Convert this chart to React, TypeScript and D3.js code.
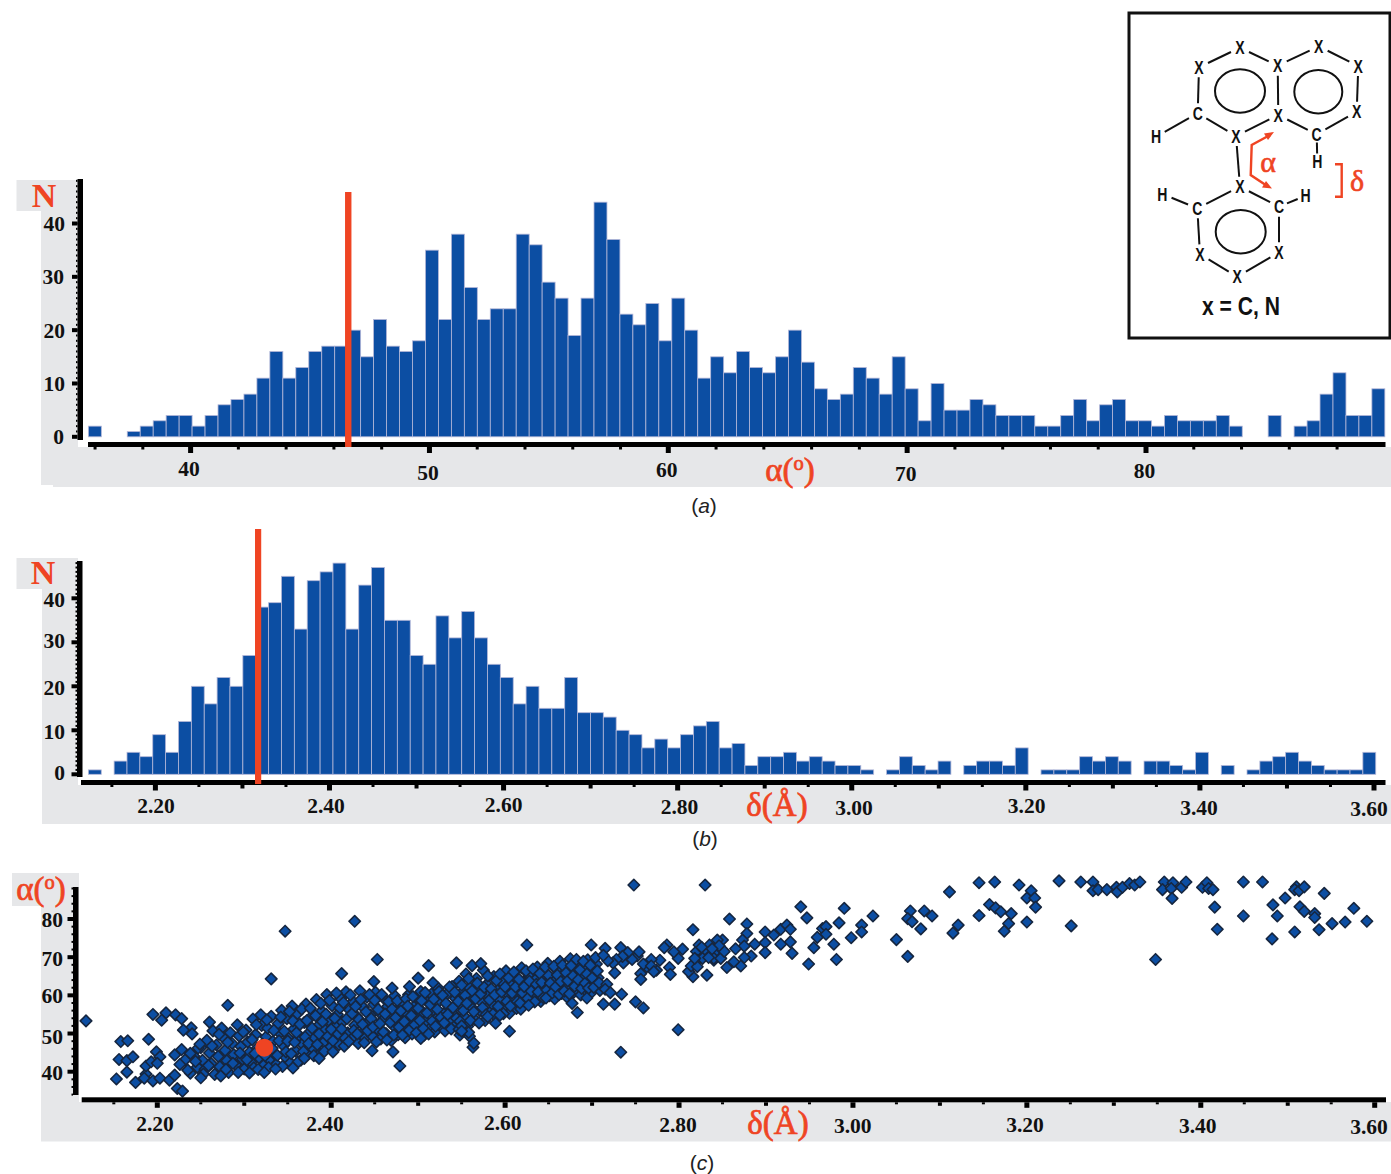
import React from "react";
import * as d3 from "d3";

// ---- data ----
const alphaCounts = [2,0,0,1,2,3,4,4,2,4,6,7,8,11,16,11,13,16,17,17,20,15,22,17,16,18,35,22,38,28,22,24,24,38,36,29,26,19,26,44,37,23,21,25,18,26,20,11,15,12,16,13,12,15,20,14,9,7,8,13,11,8,15,9,3,10,5,5,7,6,4,4,4,2,2,4,7,3,6,7,3,3,2,4,3,3,3,4,2,0,0,4,0,2,3,8,12,4,4,9];
const deltaCounts = [1,0,3,5,4,9,5,12,20,16,22,20,27,38,39,45,33,44,46,48,33,43,47,35,35,27,25,36,31,37,31,25,22,16,20,15,15,22,14,14,13,10,9,6,8,6,9,11,12,6,7,2,4,4,5,3,4,3,2,2,1,0,1,4,2,1,3,0,2,3,3,2,6,0,1,1,1,4,3,4,3,0,3,3,2,1,5,0,2,0,1,3,4,5,3,2,1,1,1,5];
const alphaBinStart = 35.72;
const alphaBinWidth = 0.5428;
const deltaBinStart = 2.123;
const deltaBinWidth = 0.01479;
const alphaMarker = 46.6;
const deltaMarker = 2.318;
const alphaTicks = [40,50,60,70,80];
const deltaTicks = [2.2,2.4,2.6,2.8,3.0,3.2,3.4,3.6];
const countTicks = [0,10,20,30,40];
const scatterAlphaTicks = [40,50,60,70,80];
const highlight = [2.323, 46.3];

const scatterSparse: number[][] = [
[2.118,53.3],[2.347,76.8],[2.427,79.4],[2.331,64.3],[2.453,69.4],[2.412,65.7],[2.281,57.4],[2.449,63.6],[2.47,61.9],[2.49,62.3],[2.512,67.8],[2.5,64.5],[2.517,63.3],[2.544,68.5],[2.562,67.8],[2.572,68.3],
[2.195,55],[2.21,55.4],[2.205,53.5],[2.221,54.9],[2.228,53.9],[2.239,51.5],[2.23,50.9],[2.24,49.9],[2.26,53],[2.158,47.9],[2.166,48.1],[2.19,48.5],[2.156,43.2],[2.165,42.9],[2.172,43.9],[2.165,39.9],[2.153,38.1],[2.175,37.2],[2.187,39.4],[2.185,38.3],[2.195,37.6],[2.203,38.3],[2.214,37.8],[2.22,39.1],[2.223,35.6],[2.229,34.9],[2.187,41.5],[2.193,42.6],[2.199,45.2],[2.203,43.9],[2.2,42.2],[2.25,38.4],[2.238,39.6],[2.235,40.4],[2.22,44.4],[2.228,45.8],[2.249,47.2],[2.232,43.1],[2.226,41.9],[2.238,44.8],[2.244,42.7],
[2.323,39.8],[2.336,40.7],[2.356,41],[2.402,45.2],[2.447,45.5],[2.471,45.2],[2.479,41.5],[2.386,43.5],[2.369,43.5],[2.563,46.4],[2.548,49.6],[2.559,49.3],[2.547,51.1],[2.503,48.7],
[2.748,88.9],[2.83,88.9],[2.733,45.1],[2.799,51],[2.94,83.2],[2.947,80.3],[2.99,82.8],[2.858,80],[2.878,78.7],[2.816,77.2],[2.625,73.2],[2.699,73.2],[2.733,72.5],[3.023,80.8],[2.984,79],[3.01,78.4],[3.01,76.6],[2.998,75.1],[2.965,77.5],[2.969,78],[2.969,76],[2.959,75.2],[2.955,72.5],[2.978,73.4],[2.981,69.4],[2.949,68.2],[2.93,71],[2.928,74],[2.917,73.4],[2.917,77.3],[2.924,78.4],[2.928,77.3],[2.899,76.6],[2.909,75.8],[2.899,73.8],[2.899,71.2],[2.887,73.4],[2.883,70.3],[2.875,69.9],[2.871,67.7],[2.863,68.8],[2.855,67.3],[2.878,76.2],[2.873,74.5],[2.875,72.9],[2.865,72.2],[2.85,74.5],[2.844,74.5],[2.84,69.2],[2.832,65.3],[2.816,64.9],[2.811,66.2],[2.814,67.7],
[2.82,71.5],[2.823,73.2],[2.829,71.9],[2.835,73.2],[2.842,71.5],[2.85,71.9],[2.821,69.2],[2.827,69.7],[2.821,67.5],[2.84,69.7],[2.848,69.7],[2.852,71.5],[2.818,69.7],[2.834,69.9],[2.826,72.6],[2.846,73],[2.838,72.2],
[2.804,72.1],[2.799,69.7],[2.794,71.4],[2.786,73.2],[2.783,72.5],[2.778,69.2],[2.768,69.4],[2.763,67.5],[2.759,68.2],[2.774,66.6],[2.768,67.7],[2.771,66.2],[2.789,67.3],[2.79,65.5],[2.756,65.7],[2.756,64.2],[2.752,70.3],[2.754,71.4],[2.746,69.4],[2.741,71.2],[2.736,68.5],[2.735,70.2],[2.728,69.4],[2.724,68.5],[2.726,65.9],[2.718,69.1],[2.715,72.3],[2.713,70.5],[2.717,62.9],[2.715,61.6],[2.721,60.7],[2.734,60.3],[2.713,57.7],[2.726,57.7],[2.75,58.3],[2.759,56.7],
[2.677,57.9],[2.683,55.5],[2.605,50.6],[2.564,47.5],[2.558,50.3],[2.55,52],[2.55,50.6],[2.58,54.4],[2.594,54.8],[2.617,58],[2.627,57.4],[2.647,59.3],[2.694,59.3],
[3.111,87.1],[3.063,70.2],[3.066,82.1],[3.063,80.1],[3.068,79.3],[3.082,82.1],[3.091,80.8],[3.078,77.4],[3.121,78.4],[3.115,76.3],[3.145,89.5],[3.163,89.7],[3.191,88.9],[3.145,80.9],[3.157,83.8],[3.164,82.9],[3.17,81.9],[3.182,81.4],[3.179,78.8],[3.174,76.8],[3.2,79.2],[3.205,87.4],[3.2,85.5],[3.209,85.5],[3.21,83.1],[3.237,90],[3.251,78.2],[3.262,89.7],[3.276,89.7],[3.276,87.4],[3.282,87.7],[3.292,87.7],[3.303,88.3],[3.304,87.1],[3.31,88.3],[3.318,89.3],[3.324,88.9],[3.33,89.7],[3.348,69.4],[3.358,89.7],[3.356,87.7],[3.368,89.5],[3.366,88],[3.367,85.4],[3.378,88.3],[3.383,89.7],[3.402,88.3],[3.407,89.5],[3.409,88],[3.414,87.7],[3.416,83.1],[3.419,77.3],[3.449,89.7],[3.449,80.8],[3.471,89.7],[3.483,83.7],[3.488,80.8],[3.482,74.8],[3.497,85.5],[3.508,76.6],[3.51,88.4],[3.508,87.7],[3.513,87.4],[3.519,88.4],[3.514,83.2],[3.519,82],[3.531,81.4],[3.531,80.4],[3.536,77.2],[3.542,86.7],[3.551,78.8],[3.566,79.2],[3.576,82.8],[3.591,79.4],[3.05,74.6],
];

const scatterBand: number[][] = [
[2.242,44.1],[2.246,41.2],[2.25,46.3],[2.252,43],[2.255,40.6],[2.257,48.2],[2.26,44.9],[2.262,42.1],[2.264,50.7],[2.266,39.3],[2.268,47],[2.27,44],[2.272,41.3],[2.274,51.4],[2.276,48.9],[2.278,45.6],[2.28,42.9],[2.282,39.8],[2.284,50.2],[2.286,47.4],[2.288,44.5],[2.29,41.8],[2.292,52.3],[2.294,49.4],[2.296,46.6],[2.298,43.3],[2.3,40.7],
[2.302,50.9],[2.304,47.8],[2.306,45.1],[2.308,42.4],[2.31,53.8],[2.311,41],[2.313,49.7],[2.315,46.2],[2.317,43.7],[2.319,54.9],[2.32,52.1],[2.322,41.6],[2.325,49.1],[2.327,51.4],[2.329,43.2],[2.331,54.5],[2.333,47.9],[2.335,44.6],[2.337,41.9],[2.339,52.6],[2.341,50.1],[2.343,56.1],[2.345,46.8],[2.347,43.9],[2.349,53.9],[2.351,48.7],[2.353,42.3],[2.355,57.2],[2.357,51.2],[2.359,45.4],[2.361,55.2],[2.363,49.5],[2.365,43],[2.367,47.2],[2.369,52.9],[2.371,57.7],[2.373,44.6],[2.375,50.3],[2.377,54.4],[2.379,46.1],[2.381,48.9],[2.383,58.9],[2.385,52],[2.387,44.7],[2.389,55.9],[2.391,47.6],[2.393,50.9],[2.395,60.2],[2.397,53.5],[2.399,46.4],[2.401,57.3],[2.403,49.4],[2.405,51.9],[2.407,55],[2.409,47.1],[2.411,59.2],[2.413,53],[2.415,46.7],[2.417,60.9],[2.419,50.2],[2.421,56.2],[2.423,48.5],[2.425,58.4],[2.427,52.2],[2.429,54.6],[2.431,47.4],[2.433,61.2],[2.435,50.1],[2.437,56.8],[2.439,48.8],[2.441,59.5],[2.443,52.9],[2.445,54.9],[2.447,49.4],[2.449,57.6],[2.451,60.8],[2.453,51.2],[2.455,55.6],[2.457,48.6],[2.459,53.4],[2.461,59.1],[2.463,50],[2.465,57.1],[2.467,54.2],[2.469,48.2],[2.471,52.1],[2.473,59.9],[2.475,55.9],[2.477,49.7],[2.479,53.7],[2.481,57.9],[2.483,51],[2.485,48.9],[2.487,55.2],[2.489,60.2],[2.491,52.8],[2.493,49.9],[2.495,57],[2.497,54],[2.499,59.3],[2.501,51.4],[2.503,61],[2.505,55.7],[2.507,49.6],[2.509,53.2],[2.511,58.2],[2.513,51.2],[2.515,60.3],[2.517,56.1],[2.519,50.4],[2.521,53.9],[2.523,61.9],[2.525,58.7],[2.527,51.8],[2.529,55.2],[2.531,50.7],[2.533,60.4],[2.535,57.2],[2.537,53.2],[2.539,62.3],[2.541,55],[2.543,59.2],[2.545,52.6],[2.547,63.7],[2.549,57.4],[2.551,60.9],[2.553,54.5],[2.555,65.6],[2.557,51.9],[2.559,62],[2.561,56.9],[2.563,59.3],[2.565,53.7],[2.567,64.4],[2.569,61.2],[2.571,56],[2.573,58.2],[2.575,66.6],[2.577,53.4],[2.579,62.9],[2.581,60],[2.583,55.6],[2.585,57.8],[2.587,64.9],[2.589,52.7],[2.591,61.3],[2.593,59],[2.595,55.9],[2.597,63.3],[2.599,57.3],[2.601,66.4],[2.603,60.4],[2.605,55.3],[2.607,62.7],[2.609,58.6],[2.611,64.9],[2.613,56.6],[2.615,61],[2.617,59.7],[2.619,67.2],[2.621,63.4],[2.623,57.9],[2.625,60.9],[2.627,65.4],[2.629,62.2],[2.631,58.9],[2.633,60.3],[2.635,64.1],[2.637,67.4],[2.639,62],[2.641,58.4],[2.643,60.7],[2.645,65.5],[2.647,63],[2.649,68.4],[2.651,59.9],[2.653,61.9],[2.655,64.3],[2.657,59.1],[2.659,66.7],[2.661,62.7],[2.663,68.9],[2.665,60.5],[2.667,64.9],[2.669,62.1],[2.671,59.6],[2.673,66.3],[2.675,69.6],[2.677,63.2],[2.679,60.8],[2.681,65.2],[2.683,68.2],[2.685,62.4],[2.687,60.1],[2.689,64.3],[2.691,66.9],[2.693,61.2],[2.695,69.3],[2.697,63.8],[2.699,60.7],[2.701,66],[2.703,62.5],[2.705,68.2],[2.707,64.6],[2.709,61.3],
];

const scatterBandFill: number[][] = [
[2.247,46.2],[2.253,39.4],[2.259,41.6],[2.263,46.7],[2.271,49.8],[2.273,38.9],[2.279,40.6],[2.281,47.7],[2.287,42.2],[2.293,39.8],[2.295,44.9],[2.299,50.4],[2.303,43.1],[2.306,39.7],[2.309,48.4],[2.312,44.8],[2.314,52.3],[2.316,40.6],[2.321,47.2],[2.324,44.2],[2.326,53.6],[2.328,41.1],[2.332,46.1],[2.334,50.8],[2.338,44.3],[2.34,48.1],[2.342,54.3],[2.344,41.4],[2.346,50.6],[2.348,45.2],[2.35,48],[2.352,55.8],[2.354,44.7],[2.356,53.3],[2.358,47.7],[2.36,50.2],[2.362,42.6],[2.364,52.4],[2.366,56.4],[2.368,45.3],[2.37,49.1],[2.372,53.4],[2.374,47.4],[2.376,56.6],[2.378,51.4],[2.38,44.2],[2.382,54.7],[2.384,47.1],[2.386,49.9],[2.388,57.9],[2.39,53.1],[2.392,45.3],[2.394,55.1],[2.396,49.2],[2.398,58.7],[2.4,51.1],[2.402,48.1],[2.404,54],[2.406,60.6],[2.408,49.9],[2.41,56.7],[2.412,51.2],[2.414,58.1],[2.416,48.8],[2.418,53.9],[2.42,47.9],[2.422,60.1],[2.424,55.2],[2.426,50.8],[2.428,57.1],[2.43,49.9],[2.432,53.7],[2.434,58.9],[2.436,52.4],[2.438,47.6],[2.44,55.7],[2.442,50.7],[2.444,60.2],[2.446,53.9],[2.448,51.7],[2.45,58.7],[2.452,47.8],[2.454,56.3],[2.456,52.6],[2.458,60.2],[2.46,50.4],[2.462,55.1],[2.464,48.3],[2.466,58.3],[2.468,52.9],[2.47,56.4],[2.472,49.6],[2.474,54.2],[2.476,58.6],[2.478,51.7],[2.48,55.9],[2.482,49.6],[2.484,53.1],[2.486,59.1],[2.488,57.2],[2.49,50.9],[2.492,54.7],[2.494,59.7],[2.496,52.3],[2.498,50.2],[2.5,56.6],[2.502,53.4],[2.504,58.6],[2.506,51.3],[2.508,60.7],[2.51,55.4],[2.512,49.9],[2.514,57.6],[2.516,53.2],[2.518,59],[2.52,51.9],[2.522,56.3],[2.524,61],[2.526,54.2],[2.528,60],[2.53,52.8],[2.532,57.9],[2.534,55],[2.536,62.2],[2.538,51.2],[2.54,56.8],[2.542,60.8],[2.544,54],[2.546,58.4],[2.548,53.2],[2.55,62.7],[2.552,56],[2.554,60],[2.556,57.9],[2.558,64.4],[2.56,53.4],[2.562,61.2],[2.564,55.7],[2.566,59.1],[2.568,63.2],[2.57,52.8],[2.572,60.4],[2.574,56.8],[2.576,62.1],[2.578,54.9],[2.58,65.1],[2.582,58.8],[2.584,61.7],[2.586,55.1],[2.588,60.1],[2.59,63.9],[2.592,57.1],[2.594,65.6],[2.596,60.9],[2.598,55.2],[2.6,62.2],[2.602,58.4],[2.604,64.6],[2.606,57.2],[2.608,60.6],[2.61,66.1],[2.612,62.2],[2.614,58.4],[2.616,64.2],[2.618,56.4],[2.62,60.6],[2.622,62.3],[2.624,66.4],[2.626,59.2],[2.628,63.7],[2.63,61.1],[2.632,66.9],[2.634,58.3],[2.636,62.9],[2.638,60.9],[2.64,65.7],[2.642,63.4],[2.644,59.4],[2.646,67.4],[2.648,61.4],[2.65,65.2],[2.652,63.2],[2.654,60.6],[2.656,67.6],[2.658,62.2],[2.66,65.3],[2.662,60.2],[2.664,63.6],[2.666,67.9],[2.668,61.1],[2.67,65.9],[2.672,63.8],[2.674,60.4],[2.676,67.8],[2.678,65.1],[2.68,62.4],[2.682,69.4],[2.684,64.1],[2.686,66.7],[2.688,61.8],[2.69,68.9],[2.692,63.2],[2.694,65.6],[2.696,61.9],[2.698,67.9],[2.7,64.6],[2.702,62.1],[2.704,69.9],[2.706,66.4],[2.708,63.3],
];

// ---- styles ----
const RED = "#ef4423";
const GREY = "#e6e7e9";
const BLUE = "#0c4ea3";
const SERIF = "'Liberation Serif', serif";
const SANS = "'Liberation Sans', sans-serif";

function TickText({ x, y, children, anchor = "middle" }: any) {
  return (
    <text x={x} y={y} textAnchor={anchor} dominantBaseline="central" fontFamily={SERIF} fontWeight={700} fontSize={21.5} fill="#111">
      {children}
    </text>
  );
}

function AlphaTitle({ x, y, size = 33 }: any) {
  return (
    <text x={x} y={y} textAnchor="middle" dominantBaseline="central" fontFamily={SERIF} fontSize={size} fill={RED} stroke={RED} strokeWidth={0.7}>
      α(<tspan fontSize={size * 0.62} dy={-size * 0.22}>o</tspan><tspan dy={size * 0.22}>)</tspan>
    </text>
  );
}

function DeltaTitle({ x, y }: any) {
  return (
    <text x={x} y={y} textAnchor="middle" dominantBaseline="central" fontFamily={SERIF} fontSize={33} fill={RED} stroke={RED} strokeWidth={0.7}>
      δ(Å)
    </text>
  );
}

function Caption({ x, y, letter }: any) {
  return (
    <text x={x} y={y} textAnchor="middle" dominantBaseline="central" fontFamily={SANS} fontSize={21} fill="#222">
      (<tspan fontStyle="italic">{letter}</tspan>)
    </text>
  );
}

function XAxisLine({ x, y0, x0, x1, ticks }: any) {
  return (
    <g fill="#000">
      <rect x={x0} y={y0} width={x1 - x0} height={5} />
      {ticks.map((t: any, i: number) => (
        <rect key={i} x={x(t.v) - t.w / 2} y={y0 + 5} width={t.w} height={t.l} />
      ))}
    </g>
  );
}

function YAxisLine({ y, x0, top, bottom, major, minor }: any) {
  return (
    <g fill="#000">
      <rect x={x0} y={top} width={5.5} height={bottom - top} />
      {minor.map((v: number) => (
        <rect key={"m" + v} x={x0 - 1.5} y={y(v) - 1} width={1.5} height={2} />
      ))}
      {major.map((v: number) => (
        <rect key={v} x={x0 - 5.5} y={y(v) - 2} width={5.5} height={4} />
      ))}
    </g>
  );
}

const minorAlpha = d3.range(36, 89, 2).map((v) => ({ v, w: v % 10 === 0 ? 5 : 3, l: v % 10 === 0 ? 6 : 2.5 }));
const minorDelta = d3.range(0, 30).map((i) => {
  const v = 2.15 + i * 0.05;
  const k = Math.round(v * 100);
  return k % 20 === 0 ? { v, w: 5, l: 5.5 } : k % 10 === 0 ? { v, w: 4, l: 3.5 } : { v, w: 3, l: 2 };
});

function Bars({ counts, start, width, x, y }: any) {
  return (
    <g>
      {counts.map((c: number, i: number) =>
        c > 0 ? (
          <rect
            key={i}
            x={x(start + i * width)}
            y={y(c)}
            width={x(start + (i + 1) * width) - x(start + i * width)}
            height={y(0) - y(c)}
            fill={BLUE}
            stroke="#b4b7d8"
            strokeWidth={0.8}
          />
        ) : null
      )}
    </g>
  );
}

function PanelA() {
  const x = d3.scaleLinear().domain([40, 80]).range([190.6, 1146]);
  const y = d3.scaleLinear().domain([0, 40]).range([436.8, 223.5]);
  const dy = [469, 473, 470, 474, 471];
  const yLabelX = [64, 65, 65, 64, 65];
  return (
    <g>
      <path d="M16.5 180H78V442H78V447H1391V487H53V485H41V211H16.5Z" fill={GREY} />
      <Bars counts={alphaCounts} start={alphaBinStart} width={alphaBinWidth} x={x} y={y} />
      <YAxisLine y={y} x0={77.5} top={179} bottom={440} major={countTicks} minor={d3.range(1, 49)} />
      <XAxisLine x={x} y0={442} x0={88} x1={1385.5} ticks={minorAlpha} />
      <rect x={x(alphaMarker) - 3.2} y={192} width={6.4} height={255} fill={RED} />
      {alphaTicks.map((t, i) => (
        <TickText key={t} x={x(t) - 1.5} y={dy[i]}>{t}</TickText>
      ))}
      {countTicks.map((t, i) => (
        <TickText key={t} x={yLabelX[i]} y={y(t) + 0.5} anchor="end">{t}</TickText>
      ))}
      <text x={44} y={195} textAnchor="middle" dominantBaseline="central" fontFamily={SERIF} fontWeight={700} fontSize={34} fill={RED}>N</text>
      <AlphaTitle x={790} y={470} />
      <Caption x={704} y={505} letter="a" />
    </g>
  );
}

function PanelB() {
  const x = d3.scaleLinear().domain([2.2, 3.6]).range([155.4, 1374]);
  const y = d3.scaleLinear().domain([0, 40]).range([774.3, 598.3]);
  const lx = [156, 326, 503.6, 679.5, 854, 1026.6, 1199, 1369];
  const ly = [806, 806, 805, 807, 808, 806, 808, 809];
  const cy = [773, 731.7, 688, 641, 600];
  return (
    <g>
      <path d="M16.5 558H78V785H1391V824H42V589H16.5Z" fill={GREY} />
      <Bars counts={deltaCounts} start={deltaBinStart} width={deltaBinWidth} x={x} y={y} />
      <YAxisLine y={y} x0={77} top={561} bottom={777} major={countTicks} minor={d3.range(1, 49)} />
      <XAxisLine x={x} y0={780} x0={81} x1={1385.5} ticks={minorDelta} />
      <rect x={x(deltaMarker) - 3.1} y={529} width={6.2} height={255} fill={RED} />
      {deltaTicks.map((t, i) => (
        <TickText key={t} x={lx[i]} y={ly[i]}>{t.toFixed(2)}</TickText>
      ))}
      {countTicks.map((t, i) => (
        <TickText key={t} x={65} y={cy[i]} anchor="end">{t}</TickText>
      ))}
      <text x={43} y={572} textAnchor="middle" dominantBaseline="central" fontFamily={SERIF} fontWeight={700} fontSize={34} fill={RED}>N</text>
      <DeltaTitle x={777} y={805} />
      <Caption x={705} y={838} letter="b" />
    </g>
  );
}

function PanelC() {
  const x = d3.scaleLinear().domain([2.2, 3.6]).range([157.3, 1374.7]);
  const y = d3.scaleLinear().domain([40, 80]).range([1071.7, 919]);
  const lx = [155, 325, 502.7, 678, 852.7, 1025, 1197.7, 1369];
  const ly = [1124, 1124, 1122.7, 1125, 1126, 1125, 1126, 1127];
  const ay = [1072.7, 1036.7, 995.7, 959, 920];
  const diamond = d3.symbol().type(d3.symbolSquare).size(66)();
  const pts = [...scatterBand, ...scatterBandFill, ...scatterSparse];
  return (
    <g>
      <path d="M12 873H79V1097H79V1102H1391V1141.5H41V906H12Z" fill={GREY} />
      {pts.map((p, i) => (
        <path
          key={i}
          d={diamond as string}
          transform={`translate(${x(p[0])},${y(p[1])}) rotate(45)`}
          fill={BLUE}
          stroke="#16263f"
          strokeWidth={1.6}
          strokeLinejoin="round"
        />
      ))}
      <circle cx={x(highlight[0])} cy={y(highlight[1])} r={9} fill={RED} />
      <YAxisLine y={y} x0={73} top={887} bottom={1095} major={scatterAlphaTicks} minor={d3.range(34, 90, 2)} />
      <XAxisLine x={x} y0={1097.3} x0={81.7} x1={1386} ticks={minorDelta} />
      {deltaTicks.map((t, i) => (
        <TickText key={t} x={lx[i]} y={ly[i]}>{t.toFixed(2)}</TickText>
      ))}
      {scatterAlphaTicks.map((t, i) => (
        <TickText key={t} x={63} y={ay[i]} anchor="end">{t}</TickText>
      ))}
      <AlphaTitle x={41} y={889} />
      <DeltaTitle x={778} y={1123} />
      <Caption x={702} y={1162} letter="c" />
    </g>
  );
}

const atoms: [string, number, number][] = [
  ["X", 1240, 47.7], ["X", 1199, 67.3], ["X", 1277.7, 65.7], ["X", 1318.7, 46.3], ["X", 1358.3, 66], ["X", 1356.7, 111.7],
  ["C", 1197.7, 113.3], ["X", 1278.3, 115], ["X", 1236, 136], ["C", 1316.7, 134.3], ["H", 1156, 136.7], ["H", 1317.3, 161.7],
  ["X", 1240, 186.7], ["H", 1162.3, 194], ["H", 1305.7, 195.7], ["C", 1197.3, 208.3], ["C", 1279, 206.7],
  ["X", 1200, 254.3], ["X", 1279, 252.3], ["X", 1237.3, 276.7],
];
const bonds = [[1,0],[0,2],[2,3],[3,4],[4,5],[5,9],[9,7],[7,2],[7,8],[8,6],[6,1],[6,10],[9,11],[8,12],[12,15],[12,16],[15,13],[16,14],[15,17],[16,18],[17,19],[18,19]];

function Inset() {
  return (
    <g>
      <rect x={1129} y={13} width={261} height={325} fill="#fff" stroke="#111" strokeWidth={3} />
      {bonds.map(([a, b], i) => {
        const [, x1, y1] = atoms[a];
        const [, x2, y2] = atoms[b];
        const d = Math.hypot(x2 - x1, y2 - y1);
        const g = Math.min(10, d * 0.3);
        const ux = (x2 - x1) / d;
        const uy = (y2 - y1) / d;
        return <line key={i} x1={x1 + ux * g} y1={y1 + uy * g} x2={x2 - ux * g} y2={y2 - uy * g} stroke="#111" strokeWidth={2} />;
      })}
      <g fill="none" stroke="#111" strokeWidth={2}>
        <ellipse cx={1240} cy={91} rx={25} ry={21.7} />
        <ellipse cx={1318.3} cy={91.7} rx={24} ry={21.7} />
        <ellipse cx={1240.7} cy={231.7} rx={25} ry={21.7} />
      </g>
      {atoms.map(([t, x, y], i) => (
        <text key={i} x={x} y={y} textAnchor="middle" dominantBaseline="central" fontFamily={SANS} fontWeight={700} fontSize={18} fill="#111" transform={`translate(${x},0) scale(0.78,1) translate(${-x},0)`}>
          {t}
        </text>
      ))}
      <path d="M1270 135L1251.7 145L1250.7 175L1268 186.5" fill="none" stroke={RED} strokeWidth={2.4} />
      <path d="M1274 132L1264 133.5L1268 140Z M1272 188.5L1262 187.5L1266 181Z" fill={RED} />
      <path d="M1335 164.3H1341.7V196.7H1335" fill="none" stroke={RED} strokeWidth={2.4} />
      <text x={1268} y={161} textAnchor="middle" dominantBaseline="central" fontFamily={SERIF} fontSize={30} fill={RED} stroke={RED} strokeWidth={0.6}>α</text>
      <text x={1357} y={180} textAnchor="middle" dominantBaseline="central" fontFamily={SERIF} fontSize={30} fill={RED} stroke={RED} strokeWidth={0.6}>δ</text>
      <text x={1241} y={306} textAnchor="middle" dominantBaseline="central" fontFamily={SANS} fontWeight={700} fontSize={25} fill="#111" textLength={78} lengthAdjust="spacingAndGlyphs">x = C, N</text>
    </g>
  );
}

export default function App() {
  return (
    <svg width={1391} height={1174} viewBox="0 0 1391 1174" style={{ position: "absolute", left: 0, top: 0, background: "#fff" }}>
      <PanelA />
      <PanelB />
      <PanelC />
      <Inset />
    </svg>
  );
}
